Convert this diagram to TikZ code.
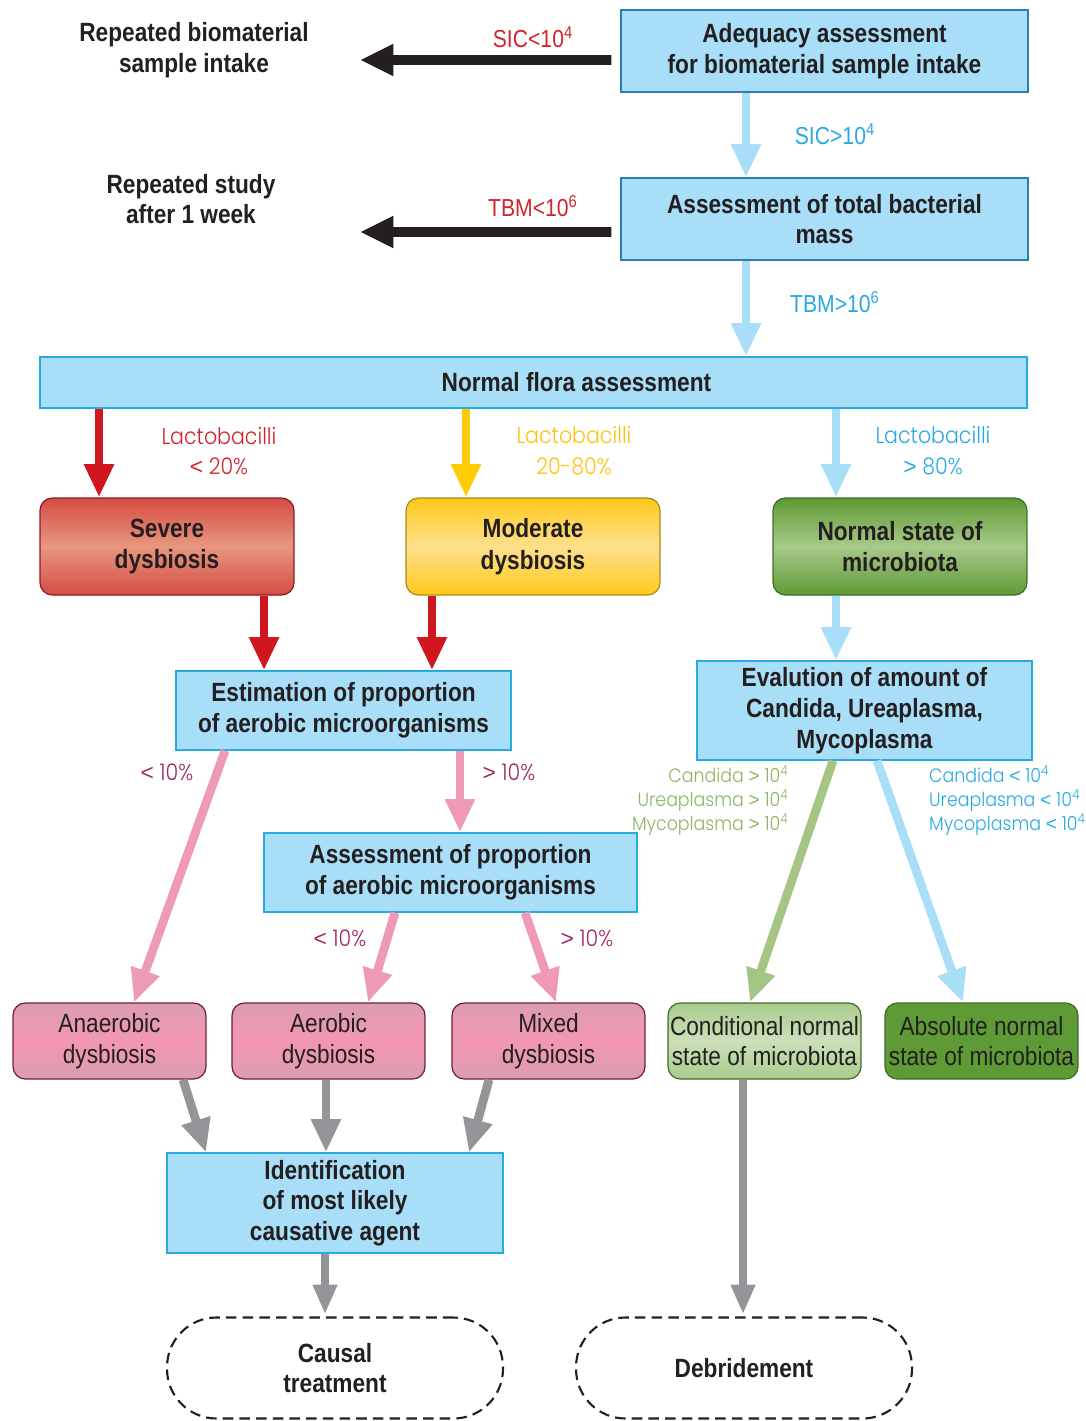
\documentclass[tikz,border=0pt]{standalone}
\usepackage{fontspec}
\setmainfont{Liberation Sans}[FakeStretch=0.86]
\newfontfamily\labfont{Poppins}[UprightFont=* Light, FakeStretch=0.9]
\newfontfamily\symfont{Liberation Sans}
\usepackage{tikz}
\usetikzlibrary{arrows.meta}
\usetikzlibrary{positioning}

\newcommand\lsym{{\symfont<}}
\newcommand\gsym{{\symfont>}}

\definecolor{bfill}{HTML}{A9DEF8}
\definecolor{bbord}{HTML}{29ABE2}
\definecolor{bdark}{HTML}{2E7DB0}
\definecolor{txt}{HTML}{231F20}
\definecolor{redl}{HTML}{D2232A}
\definecolor{reda}{HTML}{D0161E}
\definecolor{yell}{HTML}{FFC20E}
\definecolor{yela}{HTML}{FFCB05}
\definecolor{bluel}{HTML}{27AAE1}
\definecolor{pinka}{HTML}{EE9AB4}
\definecolor{purl}{HTML}{9E2A63}
\definecolor{greenl}{HTML}{8AB661}
\definecolor{greena}{HTML}{A5C585}
\definecolor{greya}{HTML}{939598}
\definecolor{sevedge}{HTML}{D54C44}
\definecolor{sevmid}{HTML}{E8977F}
\definecolor{sevbord}{HTML}{8E1B1E}
\definecolor{modedge}{HTML}{FFC91A}
\definecolor{modmid}{HTML}{FEE08C}
\definecolor{modbord}{HTML}{A98A1A}
\definecolor{nrmedge}{HTML}{5E9A35}
\definecolor{nrmmid}{HTML}{A8C98A}
\definecolor{grnbord}{HTML}{3F6E26}
\definecolor{pinkedge}{HTML}{DA9DB0}
\definecolor{pinkmid}{HTML}{F397B0}
\definecolor{pinkbord}{HTML}{6E1E3C}
\definecolor{cndedge}{HTML}{A9CB8C}
\definecolor{cndmid}{HTML}{CCE0BB}

\begin{document}
\begin{tikzpicture}[
    x=0.02cm, y=-0.02cm,
    bluebox/.style={rectangle, draw=bbord, fill=bfill, line width=0.7pt, inner sep=0pt,
        align=center, text=txt, font=\bfseries\fontsize{15}{17.5}\selectfont},
    colbox/.style={rectangle, rounded corners=7pt, line width=0.7pt, inner sep=0pt,
        minimum width=5.08cm, minimum height=1.94cm, align=center, text=txt,
        font=\bfseries\fontsize{15}{18}\selectfont},
    smallbox/.style={rectangle, rounded corners=7pt, line width=0.7pt, inner sep=0pt,
        minimum width=3.86cm, minimum height=1.52cm, align=center, text=txt,
        font=\fontsize{15}{17.5}\selectfont},
    endbox/.style={rectangle, rounded corners=0.99cm, draw=txt, line width=1.2pt,
        dash pattern=on 6pt off 3.5pt, minimum width=6.72cm, minimum height=2.02cm,
        align=center, text=txt, font=\bfseries\fontsize{15}{17.5}\selectfont},
    sidetext/.style={align=center, text=txt, font=\bfseries\fontsize{15}{17.5}\selectfont},
    condlbl/.style={font=\fontsize{14}{16}\selectfont},
    lactlbl/.style={align=center, font=\labfont\fontsize{13}{17.5}\selectfont},
    amountlbl/.style={font=\labfont\fontsize{11}{13.6}\selectfont},
    arr/.style={line width=5pt, -{Triangle[length=19pt, width=16pt]}},
    blkarr/.style={line width=5.5pt, draw=txt, -{Triangle[length=19pt, width=17pt]}},
    endarr/.style={line width=5pt, draw=greya, -{Triangle[length=17pt, width=13pt]}}
]
\useasboundingbox (0,0) rectangle (1086,1421);

% --- Top assessment boxes ---
\node[bluebox, draw=bdark, minimum width=8.14cm, minimum height=1.64cm] (ad) at (824.5,51)
    {Adequacy assessment\\for biomaterial sample intake};
\node[bluebox, draw=bdark, minimum width=8.14cm, minimum height=1.64cm] (tot) at (824.5,219)
    {Assessment of total bacterial\\mass};

% --- Repeat texts on the left ---
\node[sidetext] (rep1) at (194,50) {Repeated biomaterial\\sample intake};
\node[sidetext] (rep2) at (191,199) {Repeated study\\after 1 week};
\coordinate (sicend) at (360,60);
\coordinate (tbmend) at (360,232);

\draw[blkarr] ([xshift=-0.18cm, yshift=-0.18cm]ad.west) -- (sicend);
\draw[blkarr] ([xshift=-0.18cm, yshift=-0.26cm]tot.west) -- (tbmend);
\node[condlbl, text=redl] (sicl) at (533,37) {SIC<10\textsuperscript{4}};
\node[condlbl, text=redl] (tbml) at (533,206) {TBM<10\textsuperscript{6}};

\draw[arr, draw=bfill] ([xshift=-1.57cm]ad.south) -- ([xshift=-1.57cm]ad.south |- tot.north);
\node[condlbl, text=bluel] (sicg) at (835,134) {SIC>10\textsuperscript{4}};

% --- Normal flora ---
\node[bluebox, minimum width=19.74cm, minimum height=1.02cm] (flora) at (533.5,382.5)
    {\hspace*{1.72cm}Normal flora assessment};
\draw[arr, draw=bfill] ([xshift=-1.57cm]tot.south) -- ([xshift=-1.57cm]tot.south |- flora.north);
\node[condlbl, text=bluel] (tbmg) at (835,302) {TBM>10\textsuperscript{6}};

% --- Three states ---
\node[colbox, draw=sevbord, top color=sevedge, bottom color=sevedge,
    middle color=sevmid] (sev) at (167,546.5) {Severe\\dysbiosis};
\node[colbox, draw=modbord, top color=modedge, bottom color=modedge,
    middle color=modmid] (mod) at (533,546.5) {Moderate\\dysbiosis};
\node[colbox, draw=grnbord, top color=nrmedge, bottom color=nrmedge,
    middle color=nrmmid] (nrm) at (900,546.5) {Normal state of\\microbiota};

\draw[arr, draw=reda] ([xshift=-1.36cm]sev.north |- flora.south) -- ([xshift=-1.36cm]sev.north);
\draw[arr, draw=yela] ([xshift=-1.34cm]mod.north |- flora.south) -- ([xshift=-1.34cm]mod.north);
\draw[arr, draw=bfill] ([xshift=-1.28cm]nrm.north |- flora.south) -- ([xshift=-1.28cm]nrm.north);
\node[lactlbl, text=redl] (lac1) at (219,451) {Lactobacilli\\\lsym{} 20\%};
\node[lactlbl, text=yell] (lac2) at (574,451) {Lactobacilli\\20-80\%};
\node[lactlbl, text=bluel] (lac3) at (933,451) {Lactobacilli\\\gsym{} 80\%};

% --- Estimation and evaluation ---
\node[bluebox, minimum width=6.7cm, minimum height=1.58cm] (est) at (343.5,710.5)
    {Estimation of proportion\\of aerobic microorganisms};
\node[bluebox, minimum width=6.7cm, minimum height=1.98cm] (eva) at (864.5,710.5)
    {Evalution of amount of\\Candida, Ureaplasma,\\Mycoplasma};
\draw[arr, draw=reda] ([xshift=-1.59cm]est.north |- sev.south) -- ([xshift=-1.59cm]est.north);
\draw[arr, draw=reda] ([xshift=1.77cm]est.north |- mod.south) -- ([xshift=1.77cm]est.north);
\draw[arr, draw=bfill] ([xshift=-1.28cm]nrm.south) -- ([xshift=-1.28cm]nrm.south |- eva.north);

\node[bluebox, minimum width=7.46cm, minimum height=1.58cm] (ass) at (450.5,872.5)
    {Assessment of proportion\\of aerobic microorganisms};
\draw[arr, draw=pinka] ([xshift=2.33cm]est.south) -- ([xshift=2.33cm]est.south |- ass.north);

% --- Final states ---
\foreach \n/\x/\t in {ana/109.5/Anaerobic, aer/328.5/Aerobic, mix/548.5/Mixed}
    \node[smallbox, draw=pinkbord, top color=pinkedge, bottom color=pinkedge,
        middle color=pinkmid] (\n) at (\x,1041) {\t\\dysbiosis};
\node[smallbox, draw=grnbord, top color=cndedge, bottom color=cndedge,
    middle color=cndmid] (cnd) at (764.5,1041) {Conditional normal\\state of microbiota};
\node[smallbox, draw=grnbord, fill=nrmedge] (abs) at (981.5,1041)
    {Absolute normal\\state of microbiota};

\draw[arr, draw=pinka] ([xshift=-2.37cm]est.south) -- ([xshift=0.49cm]ana.north);
\draw[arr, draw=pinka] ([xshift=-1.11cm]ass.south) -- ([xshift=0.79cm]aer.north);
\draw[arr, draw=pinka] ([xshift=1.49cm]ass.south) -- ([xshift=0.15cm]mix.north);
\draw[arr, draw=greena] ([xshift=-0.63cm]eva.south) -- ([xshift=-0.29cm]cnd.north);
\draw[arr, draw=bfill] ([xshift=0.25cm]eva.south) -- ([xshift=-0.37cm]abs.north);

\node[lactlbl, text=purl] (p1) at (167,772) {\lsym{} 10\%};
\node[lactlbl, text=purl] (p2) at (509,772) {\gsym{} 10\%};
\node[lactlbl, text=purl] (p3) at (340,938) {\lsym{} 10\%};
\node[lactlbl, text=purl] (p4) at (587,938) {\gsym{} 10\%};

\node[amountlbl, text=greenl, anchor=east, align=right] (amg) at (795,801)
    {Candida \gsym{} 10\textsuperscript{4}\\Ureaplasma \gsym{} 10\textsuperscript{4}\\Mycoplasma \gsym{} 10\textsuperscript{4}};
\node[amountlbl, text=bluel, anchor=west, align=left] (amb) at (923,801)
    {Candida \lsym{} 10\textsuperscript{4}\\Ureaplasma \lsym{} 10\textsuperscript{4}\\Mycoplasma \lsym{} 10\textsuperscript{4}};

% --- Identification ---
\node[bluebox, minimum width=6.72cm, minimum height=2cm] (idn) at (335,1203)
    {Identification\\of most likely\\causative agent};
\draw[arr, draw=greya] ([xshift=1.47cm]ana.south) -- ([xshift=-2.58cm]idn.north);
\draw[arr, draw=greya] ([xshift=-0.05cm]aer.south) -- ([xshift=-0.05cm]aer.south |- idn.north);
\draw[arr, draw=greya] ([xshift=-1.19cm]mix.south) -- ([xshift=2.68cm]idn.north);

% --- Treatment ---
\node[endbox] (cau) at (335,1368) {Causal\\treatment};
\node[endbox] (deb) at (744,1368) {Debridement};
\draw[endarr] ([xshift=-0.2cm]idn.south) -- ([xshift=-0.2cm,yshift=0.04cm]idn.south |- cau.north);
\draw[endarr] ([xshift=-0.43cm]cnd.south) -- ([xshift=-0.43cm,yshift=0.04cm]cnd.south |- deb.north);

\end{tikzpicture}
\end{document}
